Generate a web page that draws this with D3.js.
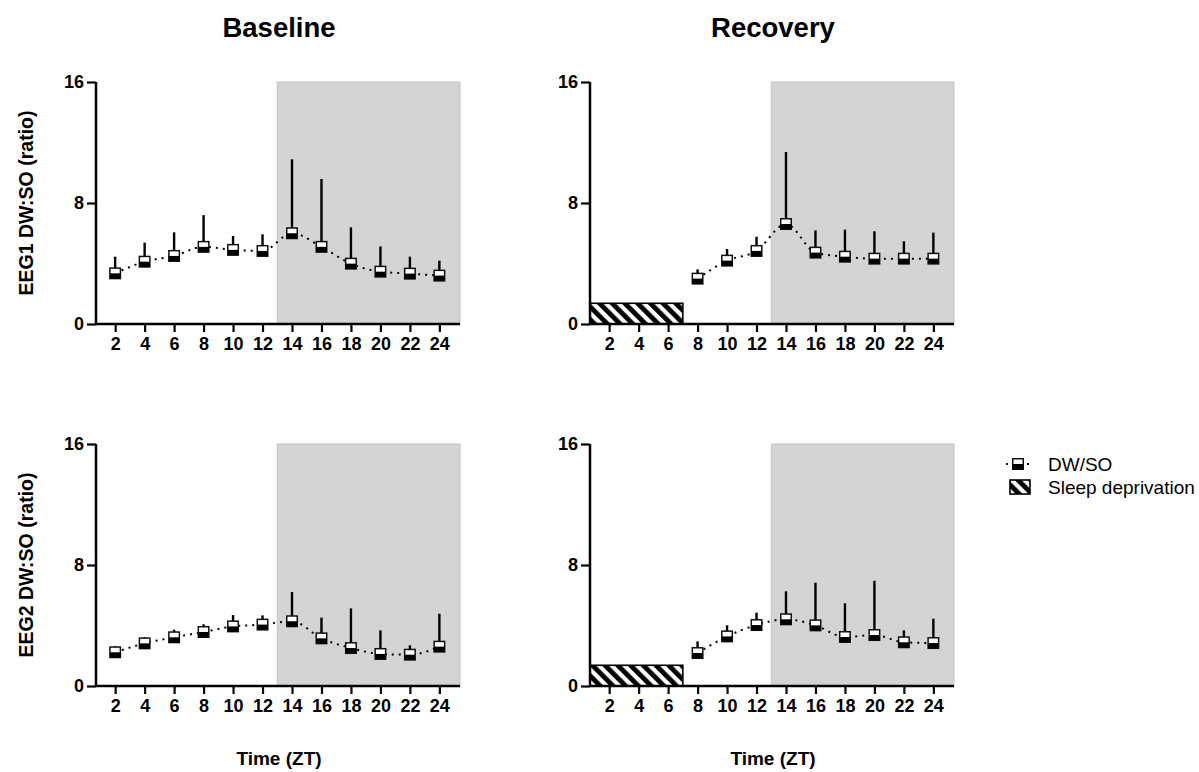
<!DOCTYPE html>
<html>
<head>
<meta charset="utf-8">
<script src="https://cdn.jsdelivr.net/npm/d3@7"></script>
<style>
  html, body { margin: 0; padding: 0; background: #fff; }
  svg { display: block; }
  text { font-family: "Liberation Sans", Arial, Helvetica, sans-serif; fill: #000; }
</style>
</head>
<body>
<svg id="chart" width="1199" height="772"></svg>
<script>
// ---------- DATA ----------
const hoursBaseline = [2, 4, 6, 8, 10, 12, 14, 16, 18, 20, 22, 24];
const hoursRecovery = [8, 10, 12, 14, 16, 18, 20, 22, 24];
const xTickValues = [2, 4, 6, 8, 10, 12, 14, 16, 18, 20, 22, 24];
const yTickValues = [0, 8, 16];

const eeg1BaselineMean = [3.35, 4.12, 4.5, 5.1, 4.9, 4.83, 6.0, 5.1, 3.99, 3.46, 3.33, 3.2];
const eeg1BaselineUpper = [4.45, 5.38, 6.06, 7.2, 5.82, 5.93, 10.89, 9.59, 6.39, 5.13, 4.45, 4.19];
const eeg1RecoveryMean = [3.0, 4.19, 4.83, 6.61, 4.72, 4.45, 4.32, 4.32, 4.32];
const eeg1RecoveryUpper = [3.61, 4.96, 5.77, 11.37, 6.19, 6.24, 6.13, 5.47, 6.04];

const eeg2BaselineMean = [2.23, 2.82, 3.22, 3.57, 3.94, 4.06, 4.28, 3.15, 2.51, 2.12, 2.07, 2.6];
const eeg2BaselineUpper = [2.64, 3.22, 3.72, 4.08, 4.69, 4.67, 6.21, 4.52, 5.13, 3.68, 2.69, 4.78];
const eeg2RecoveryMean = [2.18, 3.28, 4.03, 4.41, 4.01, 3.24, 3.37, 2.89, 2.84];
const eeg2RecoveryUpper = [2.95, 4.01, 4.85, 6.26, 6.83, 5.47, 6.96, 3.68, 4.45];

const darkPhaseStart = 13;      // ZT start of shaded (dark) phase
const sleepDepEnd = 7;          // ZT end of sleep deprivation
const sleepDepHeight = 1.37;    // height of the hatched bar (y units)

const columnTitles = ["Baseline", "Recovery"];
const rowLabels = ["EEG1 DW:SO (ratio)", "EEG2 DW:SO (ratio)"];
const xAxisTitle = "Time (ZT)";
const legendLabels = ["DW/SO", "Sleep deprivation"];

// ---------- LAYOUT ----------
const svg = d3.select("#chart");
const xDomain = [0.7, 25.4];
const yDomain = [0, 16];
const colX = [[96, 460], [590, 954]];
const rowY = [[324, 82], [686, 444]];

const panels = [
  { col: 0, row: 0, xs: hoursBaseline, mean: eeg1BaselineMean, upper: eeg1BaselineUpper, sd: false },
  { col: 1, row: 0, xs: hoursRecovery, mean: eeg1RecoveryMean, upper: eeg1RecoveryUpper, sd: true },
  { col: 0, row: 1, xs: hoursBaseline, mean: eeg2BaselineMean, upper: eeg2BaselineUpper, sd: false },
  { col: 1, row: 1, xs: hoursRecovery, mean: eeg2RecoveryMean, upper: eeg2RecoveryUpper, sd: true }
];

// hatch pattern
const defs = svg.append("defs");
const pat = defs.append("pattern")
  .attr("id", "hatch")
  .attr("patternUnits", "userSpaceOnUse")
  .attr("width", 9).attr("height", 9)
  .attr("patternTransform", "rotate(-45)");
pat.append("rect").attr("width", 9).attr("height", 9).attr("fill", "#fff");
pat.append("rect").attr("x", 0).attr("y", 0).attr("width", 4.8).attr("height", 9).attr("fill", "#000");

function drawMarker(g, cx, cy) {
  const s = 10.5;
  g.append("rect")
    .attr("x", cx - s / 2).attr("y", cy - s / 2)
    .attr("width", s).attr("height", s)
    .attr("fill", "#fff").attr("stroke", "#111").attr("stroke-width", 1.5);
  g.append("rect")
    .attr("x", cx - s / 2).attr("y", cy)
    .attr("width", s).attr("height", s / 2)
    .attr("fill", "#000");
}

panels.forEach(p => {
  const x = d3.scaleLinear().domain(xDomain).range(colX[p.col]);
  const y = d3.scaleLinear().domain(yDomain).range(rowY[p.row]);
  const g = svg.append("g");

  // dark phase shading
  g.append("rect")
    .attr("x", x(darkPhaseStart)).attr("y", y(16))
    .attr("width", x(xDomain[1]) - x(darkPhaseStart))
    .attr("height", y(0) - y(16))
    .attr("fill", "#d4d4d4").attr("stroke", "#c4c4c4").attr("stroke-width", 1);

  // sleep deprivation bar
  if (p.sd) {
    g.append("rect")
      .attr("x", x(xDomain[0])).attr("y", y(sleepDepHeight))
      .attr("width", x(sleepDepEnd) - x(xDomain[0]))
      .attr("height", y(0) - y(sleepDepHeight))
      .attr("fill", "url(#hatch)").attr("stroke", "#000").attr("stroke-width", 1.6);
  }

  const pts = p.xs.map((h, i) => ({ h, m: p.mean[i], u: p.upper[i] }));

  // dotted connecting line
  const line = d3.line().x(d => x(d.h)).y(d => y(d.m)).curve(d3.curveMonotoneX);
  g.append("path").datum(pts)
    .attr("d", line)
    .attr("fill", "none").attr("stroke", "#000")
    .attr("stroke-width", 2).attr("stroke-dasharray", "2,5");

  // error bars (upper only)
  g.selectAll(".err").data(pts).enter().append("line")
    .attr("x1", d => x(d.h)).attr("x2", d => x(d.h))
    .attr("y1", d => y(d.m)).attr("y2", d => y(d.u))
    .attr("stroke", "#000").attr("stroke-width", 2.4);

  // markers
  pts.forEach(d => drawMarker(g, x(d.h), y(d.m)));

  // axes
  const xAxis = d3.axisBottom(x).tickValues(xTickValues).tickSize(8).tickPadding(5).tickFormat(d3.format("d"));
  const gx = g.append("g").attr("transform", `translate(0,${y(0)})`).call(xAxis);
  gx.select(".domain").attr("d", `M${x(xDomain[0])},0H${x(xDomain[1])}`).attr("stroke-width", 2.5);
  const yAxis = d3.axisLeft(y).tickValues(yTickValues).tickSize(9).tickPadding(3).tickFormat(d3.format("d"));
  const gy = g.append("g").attr("transform", `translate(${x(xDomain[0])},0)`).call(yAxis);
  gy.select(".domain").attr("d", `M0,${y(0)}V${y(16)}`).attr("stroke-width", 2.5);
  [gx, gy].forEach(a => {
    a.selectAll(".tick line").attr("stroke-width", 2.2).attr("stroke", "#000");
    a.select(".domain").attr("stroke", "#000");
    a.selectAll("text").attr("font-size", 18).attr("font-weight", "bold")
      .attr("font-family", '"Liberation Sans", Arial, sans-serif').attr("fill", "#000");
  });
});

// column titles
columnTitles.forEach((t, i) => {
  svg.append("text").attr("x", (colX[i][0] + colX[i][1]) / 2 + 1).attr("y", 37)
    .attr("text-anchor", "middle").attr("font-size", 27.5).attr("font-weight", "bold").text(t);
  svg.append("text").attr("x", (colX[i][0] + colX[i][1]) / 2 + 1).attr("y", 765)
    .attr("text-anchor", "middle").attr("font-size", 19).attr("font-weight", "bold").text(xAxisTitle);
});

// row labels
rowLabels.forEach((t, i) => {
  const cy = (rowY[i][0] + rowY[i][1]) / 2;
  svg.append("text").attr("transform", `translate(33,${cy}) rotate(-90)`)
    .attr("text-anchor", "middle").attr("font-size", 19.5).attr("font-weight", "bold").text(t);
});

// legend
const lg = svg.append("g");
lg.append("line").attr("x1", 1006).attr("x2", 1030).attr("y1", 464).attr("y2", 464)
  .attr("stroke", "#000").attr("stroke-width", 2).attr("stroke-dasharray", "2,5");
drawMarker(lg, 1018, 464);
lg.append("text").attr("x", 1048).attr("y", 471).attr("font-size", 19).text(legendLabels[0]);
lg.append("rect").attr("x", 1010).attr("y", 480).attr("width", 20).attr("height", 14)
  .attr("fill", "url(#hatch)").attr("stroke", "#000").attr("stroke-width", 1.6);
lg.append("text").attr("x", 1048).attr("y", 494).attr("font-size", 19).text(legendLabels[1]);
</script>
</body>
</html>
